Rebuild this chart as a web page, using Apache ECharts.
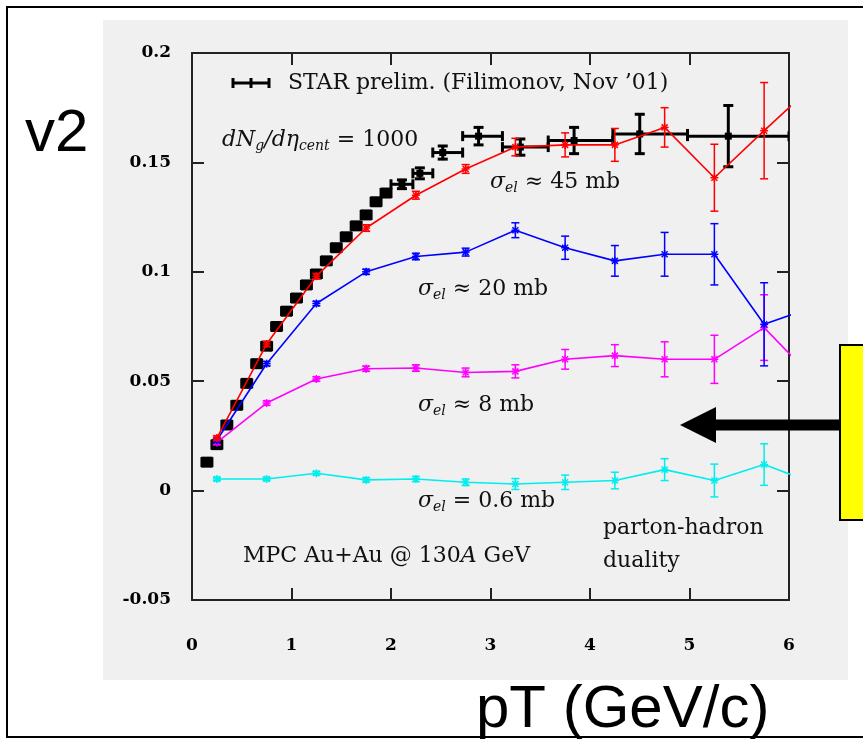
<!DOCTYPE html>
<html><head><meta charset="utf-8">
<script src="https://cdn.jsdelivr.net/npm/echarts@6/dist/echarts.min.js"></script>
<style>html,body{margin:0;padding:0;background:#fff}#c{width:863px;height:741px}</style>
</head><body><div id="c"></div>
<script>
// ---- axis ticks ----
const xTickLabels = ['0','1','2','3','4','5','6'];
const yTickLabels = ['-0.05','0','0.05','0.1','0.15','0.2'];

// ---- MPC transport model points (pT bin centres) ----
const modelPt = [0.25,0.75,1.25,1.75,2.25,2.75,3.25,3.75,4.25,4.75,5.25,5.75,6.25];
const v2_45mb = [0.024,0.067,0.098,0.120,0.135,0.147,0.157,0.158,0.158,0.166,0.143,0.1645,0.1855];
const err_45mb = [0.001,0.0012,0.0012,0.0015,0.0018,0.002,0.004,0.0055,0.0075,0.009,0.0153,0.022];
const v2_20mb = [0.023,0.058,0.0855,0.100,0.107,0.109,0.119,0.111,0.105,0.108,0.108,0.076,0.084];
const err_20mb = [0.001,0.001,0.001,0.0012,0.0015,0.0018,0.0034,0.0053,0.007,0.010,0.014,0.019];
const v2_8mb = [0.022,0.040,0.051,0.0557,0.056,0.054,0.0545,0.060,0.0617,0.060,0.060,0.0745,0.051];
const err_8mb = [0.001,0.001,0.001,0.0012,0.0015,0.002,0.003,0.0045,0.005,0.008,0.011,0.015];
const v2_06mb = [0.0053,0.0053,0.0079,0.0049,0.0053,0.0038,0.003,0.0038,0.0046,0.0096,0.0046,0.0119,0.0033];
const err_06mb = [0.0008,0.0008,0.0008,0.001,0.0012,0.0015,0.0025,0.0033,0.0038,0.005,0.0075,0.0095];

// ---- STAR preliminary data ----
const starPt = [0.15,0.25,0.35,0.45,0.55,0.65,0.75,0.85,0.95,1.05,1.15,1.25,1.35,1.45,1.55,1.65,1.75,1.85,1.95,2.11,2.29,2.52,2.88,3.30,3.84,4.50,5.39];
const starV2 = [0.013,0.021,0.030,0.039,0.049,0.058,0.066,0.075,0.082,0.088,0.094,0.099,0.105,0.111,0.116,0.121,0.126,0.132,0.136,0.140,0.145,0.1545,0.162,0.157,0.160,0.163,0.162];
const starErr = [0.0012,0.0012,0.0012,0.0012,0.0012,0.0012,0.0012,0.0012,0.0012,0.0012,0.0012,0.0012,0.0012,0.0012,0.0013,0.0013,0.0014,0.0015,0.0016,0.002,0.0025,0.003,0.004,0.0037,0.006,0.009,0.014];
const starLo = [0.1,0.2,0.3,0.4,0.5,0.6,0.7,0.8,0.9,1.0,1.1,1.2,1.3,1.4,1.5,1.6,1.7,1.8,1.9,2.0,2.22,2.42,2.72,3.12,3.58,4.23,4.98];
const starHi = [0.2,0.3,0.4,0.5,0.6,0.7,0.8,0.9,1.0,1.1,1.2,1.3,1.4,1.5,1.6,1.7,1.8,1.9,2.0,2.22,2.42,2.72,3.12,3.58,4.23,4.98,6.0];

const SERIF = 'DejaVu Serif';
const chart = echarts.init(document.getElementById('c'), null, {renderer:'canvas'});

function modelRender(color){
  return function(params, api){
    const x = api.value(0), y = api.value(1), e = api.value(2);
    const c = api.coord([x,y]), t = api.coord([x,y+e]), b = api.coord([x,y-e]);
    const st = {stroke:color, lineWidth:1.5};
    const cap = 4, m = 4, d = 3;
    const L = (x1,y1,x2,y2)=>({type:'line',shape:{x1,y1,x2,y2},style:st});
    return {type:'group', children:[
      L(c[0],t[1],c[0],b[1]),
      L(c[0]-cap,t[1],c[0]+cap,t[1]),
      L(c[0]-cap,b[1],c[0]+cap,b[1]),
      L(c[0]-m,c[1],c[0]+m,c[1]),
      L(c[0],c[1]-m,c[0],c[1]+m),
      L(c[0]-d,c[1]-d,c[0]+d,c[1]+d),
      L(c[0]-d,c[1]+d,c[0]+d,c[1]-d)
    ]};
  };
}
function starRender(params, api){
  const x = api.value(0), y = api.value(1), e = api.value(2), lo = api.value(3), hi = api.value(4);
  const c = api.coord([x,y]), t = api.coord([x,y+e]), b = api.coord([x,y-e]);
  const l = api.coord([lo,y]), r = api.coord([hi,y]);
  const st = {stroke:'#000', lineWidth:3};
  const cap = 5;
  const sq = x < 2 ? 11 : 7;
  const L = (x1,y1,x2,y2)=>({type:'line',shape:{x1,y1,x2,y2},style:st});
  return {type:'group', children:[
    L(l[0],c[1],r[0],c[1]),
    L(l[0],c[1]-cap,l[0],c[1]+cap),
    L(r[0],c[1]-cap,r[0],c[1]+cap),
    L(c[0],t[1]-1,c[0],b[1]+1),
    L(c[0]-cap,t[1],c[0]+cap,t[1]),
    L(c[0]-cap,b[1],c[0]+cap,b[1]),
    {type:'rect',shape:{x:c[0]-sq/2,y:c[1]-sq/2,width:sq,height:sq},style:{fill:'#000'}}
  ]};
}
function modelSeries(vals, errs, color){
  return [
    {type:'line', data: modelPt.map((x,i)=>[x, vals[i]]), symbol:'none', showSymbol:false,
     lineStyle:{color, width:1.6}, clip:true, z:6, animation:false, silent:true},
    {type:'custom', data: errs.map((e,i)=>[modelPt[i], vals[i], e]), renderItem: modelRender(color),
     encode:{x:0,y:1}, clip:true, z:7, animation:false, silent:true}
  ];
}

const axisLine = {show:true, onZero:false, lineStyle:{color:'#222', width:2}};
const axisTick = {show:true, inside:true, length:12, lineStyle:{color:'#222', width:2}};
const labelStyle = {color:'#000', fontFamily:SERIF, fontSize:17, fontWeight:'bold'};

const FS = 22;
const txt = (x,y,rich,text)=>({type:'text', x, y, z:50,
  style:{text, rich, fill:'#111', font:FS+'px "'+SERIF+'"', verticalAlign:'middle', align:'left'}});
const R = {
  n:{fontFamily:SERIF, fontSize:FS, color:'#111', lineHeight:25},
  i:{fontFamily:SERIF, fontStyle:'italic', fontSize:FS, color:'#111', lineHeight:25},
  s:{fontFamily:SERIF, fontStyle:'italic', fontSize:14, color:'#111', lineHeight:25, padding:[12,0,0,0]}
};

const option = {
  animation:false,
  backgroundColor:'#ffffff',
  grid:{left:192, right:74, top:53, bottom:141, containLabel:false, outerBoundsMode:'none'},
  xAxis:[
    {type:'value', min:0, max:6, interval:1, position:'bottom', axisLine, axisTick,
     splitLine:{show:false}, axisLabel:Object.assign({margin:37, formatter:v=>xTickLabels[Math.round(v)]}, labelStyle)},
    {type:'value', min:0, max:6, interval:1, position:'top', axisLine, axisTick,
     splitLine:{show:false}, axisLabel:{show:false}}
  ],
  yAxis:[
    {type:'value', min:-0.05, max:0.2, interval:0.05, position:'left', axisLine, axisTick,
     splitLine:{show:false}, axisLabel:Object.assign({margin:21, formatter:v=>yTickLabels[Math.round((v+0.05)/0.05)]}, labelStyle)},
    {type:'value', min:-0.05, max:0.2, interval:0.05, position:'right', axisLine, axisTick,
     splitLine:{show:false}, axisLabel:{show:false}}
  ],
  series:[
    {type:'custom', data: starPt.map((x,i)=>[x, starV2[i], starErr[i], starLo[i], starHi[i]]),
     renderItem: starRender, encode:{x:0,y:1}, clip:true, z:4, animation:false, silent:true},
    ...modelSeries(v2_06mb, err_06mb, '#00eeee'),
    ...modelSeries(v2_8mb, err_8mb, '#ff00ff'),
    ...modelSeries(v2_20mb, err_20mb, '#0000ff'),
    ...modelSeries(v2_45mb, err_45mb, '#ff0000')
  ],
  graphic:[
    {type:'rect', z:-100, shape:{x:103, y:20, width:745, height:660}, style:{fill:'#f0f0f0'}, silent:true},
    {type:'rect', z:-99, shape:{x:7, y:7, width:900, height:730}, style:{fill:'none', stroke:'#000', lineWidth:2}, silent:true},
    // legend glyph
    {type:'line', z:50, shape:{x1:232,y1:83,x2:270,y2:83}, style:{stroke:'#000', lineWidth:3}},
    {type:'line', z:50, shape:{x1:233,y1:78,x2:233,y2:88}, style:{stroke:'#000', lineWidth:3}},
    {type:'line', z:50, shape:{x1:251,y1:78,x2:251,y2:88}, style:{stroke:'#000', lineWidth:3}},
    {type:'line', z:50, shape:{x1:269,y1:78,x2:269,y2:88}, style:{stroke:'#000', lineWidth:3}},
    txt(288, 83, R, '{n|STAR prelim. (Filimonov, Nov \u201901)}'),
    txt(222, 140, R, '{i|dN}{s|g}{i|/d\u03b7}{s|cent}{n| = 1000}'),
    txt(490, 182, R, '{i|\u03c3}{s|el}{n| \u2248 45 mb}'),
    txt(418, 289, R, '{i|\u03c3}{s|el}{n| \u2248 20 mb}'),
    txt(418, 405, R, '{i|\u03c3}{s|el}{n| \u2248 8 mb}'),
    txt(418, 501, R, '{i|\u03c3}{s|el}{n| = 0.6 mb}'),
    txt(603, 528, R, '{n|parton-hadron}'),
    txt(603, 561, R, '{n|duality}'),
    txt(243, 556, R, '{n|MPC Au+Au @ 130}{i|A}{n| GeV}'),
    // arrow and yellow box
    {type:'rect', z:60, shape:{x:840, y:345, width:40, height:175}, style:{fill:'#ffff00', stroke:'#000', lineWidth:2}},
    {type:'rect', z:60, shape:{x:713, y:419.5, width:127, height:11}, style:{fill:'#000'}},
    {type:'polygon', z:60, shape:{points:[[680,425],[716,407],[716,443]]}, style:{fill:'#000'}},
    // outer axis titles
    {type:'text', z:60, x:25, y:104, style:{text:'v2', font:'60px "Liberation Sans"', fill:'#000', verticalAlign:'top'}},
    {type:'text', z:60, x:476, y:680, style:{text:'pT (GeV/c)', font:'60px "Liberation Sans"', fill:'#000', verticalAlign:'top'}}
  ]
};
chart.setOption(option);
</script></body></html>
